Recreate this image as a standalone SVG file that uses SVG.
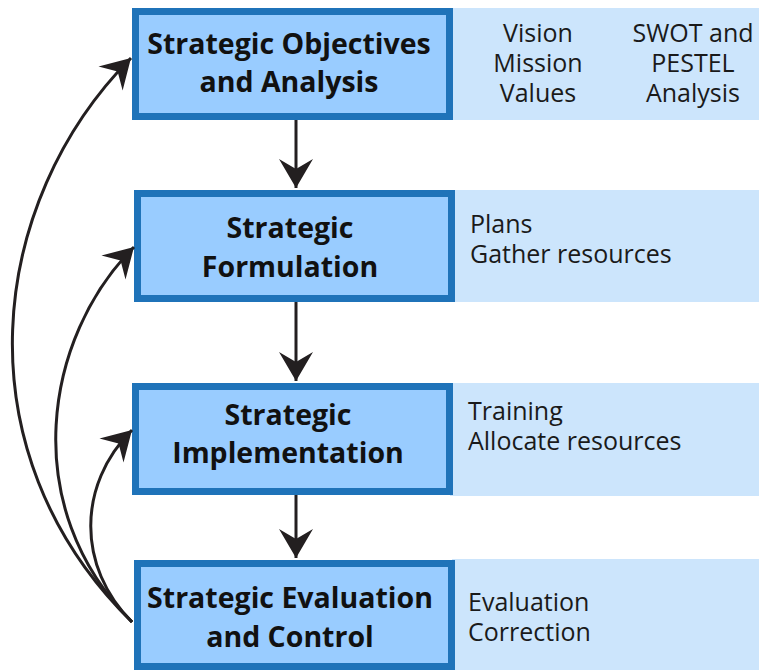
<svg xmlns="http://www.w3.org/2000/svg" width="759" height="670" viewBox="0 0 759 670">
<defs>
<style>
.box{fill:#99ccff;stroke:#1f73b9;stroke-width:7}
.panel{fill:#cce5fc}
.t{font-family:"Open Sans","Noto Sans",sans-serif;font-weight:700;font-size:28.5px;fill:#111;text-anchor:middle}
.n{font-family:"Open Sans","Noto Sans",sans-serif;font-size:25px;fill:#1a1a1a}
.c{text-anchor:middle}
.ln{fill:none;stroke:#231f20;stroke-width:3;marker-end:url(#ah)}
</style>
<marker id="ah" markerUnits="userSpaceOnUse" markerWidth="40" markerHeight="40" viewBox="-30 -20 40 40" refX="0" refY="0" orient="auto">
<path d="M0,0 L-29,-17 L-19,0 L-29,17 Z" fill="#231f20"/>
</marker>
</defs>
<g id="node1">
<rect class="panel" x="450" y="8" width="309" height="112"/>
<rect class="box" x="135.5" y="11.5" width="314" height="105"/>
<text class="t" x="289" y="54">Strategic Objectives</text>
<text class="t" x="289" y="92">and Analysis</text>
<text class="n c" x="538" y="42">Vision</text>
<text class="n c" x="538" y="72">Mission</text>
<text class="n c" x="538" y="102">Values</text>
<text class="n c" x="693" y="42">SWOT and</text>
<text class="n c" x="693" y="72">PESTEL</text>
<text class="n c" x="693" y="102">Analysis</text>
</g>
<g id="node2">
<rect class="panel" x="452" y="190" width="307" height="112"/>
<rect class="box" x="137.5" y="193.5" width="314" height="105"/>
<text class="t" x="290" y="238">Strategic</text>
<text class="t" x="290" y="277">Formulation</text>
<text class="n" x="470" y="233">Plans</text>
<text class="n" x="470" y="263">Gather resources</text>
</g>
<g id="node3">
<rect class="panel" x="450" y="383" width="309" height="113"/>
<rect class="box" x="135.5" y="386.5" width="314" height="105"/>
<text class="t" x="288" y="425">Strategic</text>
<text class="t" x="288" y="463">Implementation</text>
<text class="n" x="468" y="420">Training</text>
<text class="n" x="468" y="450">Allocate resources</text>
</g>
<g id="node4">
<rect class="panel" x="452" y="559" width="307" height="111"/>
<rect class="box" x="137.5" y="563.5" width="314" height="103"/>
<text class="t" x="290" y="608">Strategic Evaluation</text>
<text class="t" x="290" y="647">and Control</text>
<text class="n" x="468" y="611">Evaluation</text>
<text class="n" x="468" y="641">Correction</text>
</g>
<g id="connectors">
<path class="ln" d="M296,120 L296,188"/>
<path class="ln" d="M296,302 L296,381"/>
<path class="ln" d="M296,495 L296,558"/>
<path class="ln" d="M132,622 C-42,451 -12,202 131,58"/>
<path class="ln" d="M132,622 C17,507 44,337 134,247"/>
<path class="ln" d="M132,622 C77,567 77,485 132,430"/>
</g>
</svg>
